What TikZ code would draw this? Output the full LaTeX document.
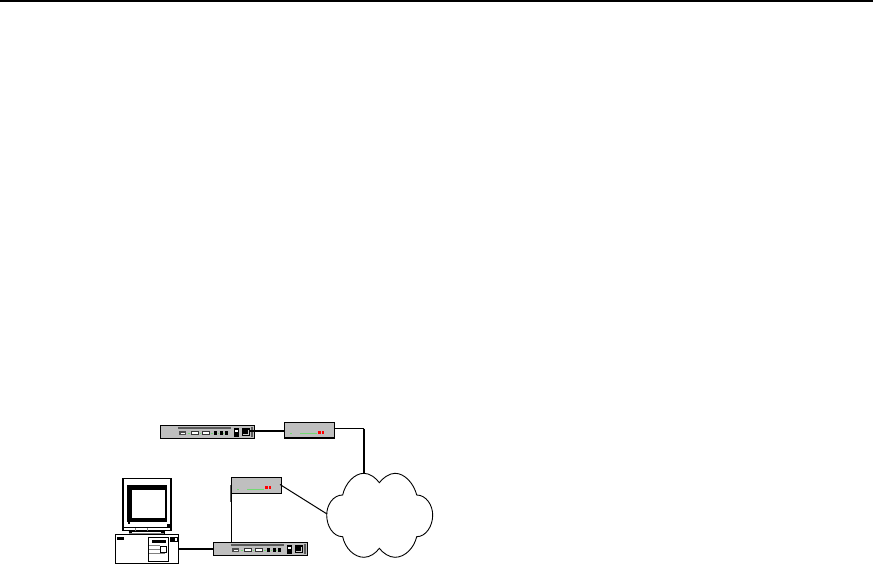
\documentclass[tikz,border=0pt]{standalone}
\definecolor{boxgray}{gray}{0.75}
\definecolor{ledgreen}{rgb}{0.45,0.85,0.45}
\tikzset{
  x=1pt,y=-1pt,
  devbox/.style={draw=black,line width=1pt,fill=boxgray,minimum width=#1,inner sep=0pt,outer sep=0pt},
  whitebox/.style={draw=black,fill=white,line width=1pt,inner sep=0pt,outer sep=0pt},
  thinlink/.style={line width=1pt,black},
  thicklink/.style={line width=2pt,black},
  routerpic/.pic={
    \fill[gray!70!black] (18,1.5) rectangle (71,4);
    \fill[black!70] (19,6) rectangle (26,10);
    \fill[white] (20.5,7.5) rectangle (24.5,8.5);
    \draw[black!80,line width=.7pt,fill=white] (31,6.5) rectangle (38,9.5);
    \draw[black!80,line width=.7pt,fill=white] (42,6.5) rectangle (49,9.5);
    \fill[black] (54,6) rectangle (57,9.5);
    \fill[black] (59.5,6) rectangle (62.5,9.5);
    \fill[black] (64.5,6) rectangle (67.5,9.5);
    \draw[ledgreen,line width=.5pt] (27.5,8)--(29.5,8) (39.5,8)--(41,8) (50.5,8)--(52.5,8) (57.5,8)--(59,8) (63,8)--(64,8);
    \fill[black] (73.5,3) rectangle (79,12);
    \fill[white] (75,4.5) rectangle (77.5,7);
    \fill[black] (81.5,3) rectangle (90,11);
    \draw[gray!40,line width=.7pt] (83,9.5)--(88.5,9.5)--(88.5,4.5);
    \fill[gray!70!black] (91,2) rectangle (93,12);
  },
  modempic/.pic={
    \fill[red] (34,9) rectangle (36.5,11.5);
    \fill[red] (37.5,9) rectangle (39.5,11.5);
    \draw[ledgreen,line width=.6pt] (6,11.7)--(8,11.7) (16,11.7)--(33,11.7);
  },
}
\begin{document}
\begin{tikzpicture}
\useasboundingbox (0,0) rectangle (873,564);
\coordinate (topl) at (0,1);
\coordinate (topr) at (873,1);
\draw[line width=2pt] (topl) -- (topr);

% routers
\node[devbox=94.5pt,minimum height=13.5pt,anchor=north west] (r1) at (160,425) {};
\pic at (160,425) {routerpic};
\node[devbox=94.5pt,minimum height=13.5pt,anchor=north west] (r2) at (213.3,542.3) {};
\pic at (213.3,542.3) {routerpic};

% modems
\node[devbox=50pt,minimum height=16pt,anchor=north west] (m1) at (284,422) {};
\pic at (284,422) {modempic};
\draw[line width=1.6pt] (m1.south west) -- (m1.south east);
\node[devbox=50pt,minimum height=16pt,anchor=north west] (m2) at (231,477.3) {};
\pic at (231,477.3) {modempic};
\fill[gray!70!black] (230,485) rectangle (231,502);

% cloud
\coordinate (c1) at (364,473.3);
\coordinate (c2) at (327,514);
\draw[line width=.9pt,fill=white]
  (364,473.3) .. controls (370,473.3) and (376,478) .. (379.3,482.7)
  .. controls (383,478) and (389,473.3) .. (395,473.3)
  .. controls (405,473.3) and (414,484) .. (416.7,495)
  .. controls (426,495) and (432.7,505) .. (432.7,515)
  .. controls (432.7,526) and (426,536.7) .. (416.7,536.7)
  .. controls (414,548) and (405,557.3) .. (395,557.3)
  .. controls (389,557.3) and (383,553) .. (379.3,548.3)
  .. controls (376,553) and (370,557.3) .. (364,557.3)
  .. controls (354,557.3) and (345,548) .. (342.7,536.7)
  .. controls (333,536.7) and (326.7,526) .. (326.7,515)
  .. controls (326.7,505) and (333,495) .. (342.7,495)
  .. controls (345,484) and (354,473.3) .. (364,473.3) -- cycle;

% computer
\node[whitebox,minimum width=63.7pt,minimum height=29.7pt,anchor=north west] (pc) at (115,534) {};
\fill[black] (117,537) rectangle (124,540);
\draw[line width=1pt] (148.5,537.5) rectangle (168.5,561);
\fill[black] (152,540) rectangle (165.5,543);
\draw[gray,line width=.8pt] (149,545)--(160,545) (149,549)--(160,549) (149,553)--(165,553);
\draw[line width=.8pt,fill=white] (160.5,546.5) rectangle (166.5,552.5);
\draw[line width=.8pt] (170.5,537.5) rectangle (177,541.5);
\fill[black] (171,538) rectangle (174.5,541);
\fill[black] (128.5,530.5) rectangle (132,534);
\fill[black] (161,530.5) rectangle (164.5,534);
\draw[line width=.8pt] (128.5,531.5) -- (164.5,531.5);
\fill[gray] (129,533) rectangle (164,534);
\node[whitebox,line width=1.6pt,minimum width=48pt,minimum height=52pt,anchor=north west] (mon) at (122.8,478.6) {};
\fill[black] (127,485) rectangle (167,522);
\fill[white] (132,489.5) rectangle (165.3,517.7);
\fill[black] (128,522) rectangle (130,524);
\fill[black] (167,524) rectangle (170.5,527.5);
\draw[line width=.8pt] (123,527.8) -- (170.5,527.8);
\draw[gray,line width=.6pt] (135,528)--(135,530.5) (147,528)--(147,530.5);

% connectors
\coordinate (r1port) at (250,430.7);
\coordinate (m1side) at (284.5,430.7);
\draw[thicklink] (r1port) -- (m1side);
\coordinate (m1out) at (334,428.5);
\coordinate (bend) at (364,428.5);
\draw[thinlink] (m1out) -- (bend);
\draw[thicklink] (bend) -- (c1);
\coordinate (m2out) at (280,484.5);
\draw[thinlink] (m2out) -- (c2);
\coordinate (m2a) at (231.7,493);
\coordinate (r2a) at (231.7,543);
\draw[thinlink] (m2a) -- (r2a);
\coordinate (pcout) at (178.7,549);
\coordinate (r2in) at (214,549);
\draw[thicklink] (pcout) -- (r2in);
\end{tikzpicture}
\end{document}
